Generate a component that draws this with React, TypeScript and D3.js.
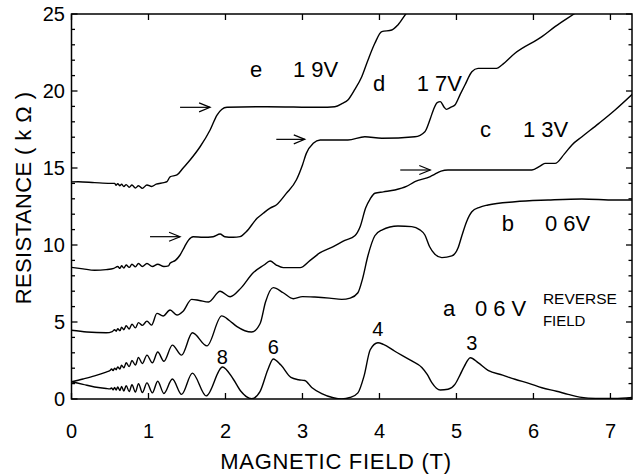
import React from "react";
import * as d3 from "d3";

// Magnetoresistance traces: [field (T), resistance (kΩ)]
const traceA: [number, number][] = [
  [0, 1.12], [0.15, 0.95], [0.3, 0.78], [0.45, 0.68], [0.5, 0.66],
  [0.52, 0.72], [0.54, 0.6], [0.56, 0.75], [0.58, 0.58], [0.6, 0.78], [0.63, 0.55],
  [0.65, 0.82], [0.68, 0.52], [0.71, 0.87], [0.75, 0.48], [0.785, 0.93], [0.83, 0.45],
  [0.87, 1.0], [0.92, 0.42], [0.98, 1.05], [1.05, 0.4], [1.12, 1.15], [1.2, 0.36],
  [1.31, 1.3], [1.43, 0.3], [1.57, 1.68], [1.75, 0.2], [1.96, 2.08], [2.1, 1.3],
  [2.2, 0.5], [2.34, 0.02], [2.45, 0.5], [2.55, 1.9], [2.62, 2.6], [2.72, 2.2],
  [2.85, 1.4], [2.95, 1.25], [3.03, 1.2], [3.12, 0.75], [3.25, 0.35], [3.4, 0.08],
  [3.51, 0.0], [3.62, 0.1], [3.72, 0.4], [3.8, 1.5], [3.88, 3.2], [3.98, 3.65],
  [4.05, 3.55], [4.2, 3.1], [4.42, 2.47], [4.55, 2.05], [4.62, 1.6], [4.68, 1.06],
  [4.74, 0.7], [4.79, 0.58], [4.89, 0.63], [4.98, 0.95], [5.05, 1.6], [5.1, 2.1],
  [5.18, 2.68], [5.28, 2.36], [5.41, 1.86], [5.6, 1.55], [5.76, 1.28], [5.95, 1.0],
  [6.11, 0.73], [6.3, 0.5], [6.45, 0.3], [6.6, 0.12], [6.71, 0.06], [6.9, 0.03],
  [7.05, 0.03], [7.28, 0.1],
];

const traceB: [number, number][] = [
  [0, 1.12], [0.15, 1.3], [0.3, 1.5], [0.45, 1.75], [0.5, 1.85],
  [0.52, 1.95], [0.54, 1.85], [0.56, 2.0], [0.58, 1.9], [0.6, 2.08], [0.63, 1.95],
  [0.65, 2.2], [0.68, 2.02], [0.71, 2.35], [0.75, 2.1], [0.785, 2.5], [0.83, 2.2],
  [0.87, 2.7], [0.92, 2.3], [0.98, 2.85], [1.05, 2.35], [1.12, 3.05], [1.2, 2.45],
  [1.31, 3.5], [1.43, 2.85], [1.57, 4.3], [1.76, 3.45], [1.95, 5.4], [2.05, 5.1],
  [2.15, 4.7], [2.34, 4.35], [2.45, 4.9], [2.52, 6.3], [2.62, 7.23], [2.75, 6.9],
  [2.88, 6.51], [3.0, 6.65], [3.16, 6.62], [3.35, 6.55], [3.51, 6.47], [3.62, 6.55],
  [3.72, 6.9], [3.78, 7.8], [3.85, 9.3], [3.94, 10.6], [4.03, 10.97], [4.24, 11.23],
  [4.42, 11.19], [4.52, 11.0], [4.59, 10.65], [4.65, 9.9], [4.72, 9.4], [4.81, 9.18],
  [4.94, 9.29], [5.02, 9.8], [5.07, 10.6], [5.13, 11.5], [5.2, 12.16], [5.3, 12.45],
  [5.41, 12.6], [5.76, 12.81], [6.19, 12.92], [6.63, 12.99], [7.06, 12.92], [7.28, 12.92],
];

const traceC: [number, number][] = [
  [0, 4.46], [0.2, 4.35], [0.45, 4.3], [0.53, 4.38],
  [0.56, 4.5], [0.58, 4.4], [0.6, 4.56], [0.63, 4.44], [0.65, 4.66], [0.68, 4.5],
  [0.71, 4.76], [0.75, 4.55], [0.785, 4.86], [0.83, 4.62], [0.87, 4.96], [0.92, 4.78],
  [0.98, 5.06], [1.04, 4.8], [1.11, 5.56], [1.19, 5.39], [1.28, 5.78], [1.37, 5.45],
  [1.45, 5.7], [1.56, 6.47], [1.66, 6.4], [1.78, 6.3], [1.93, 7.0], [2.06, 6.64],
  [2.2, 7.2], [2.36, 8.2], [2.5, 8.7], [2.58, 8.96], [2.66, 8.7], [2.75, 8.53],
  [2.97, 8.53], [3.1, 9.0], [3.23, 9.5], [3.4, 9.9], [3.55, 10.3], [3.68, 10.6],
  [3.75, 11.2], [3.82, 12.4], [3.88, 13.0], [3.94, 13.36], [4.05, 13.45], [4.2, 13.57],
  [4.35, 13.8], [4.46, 14.11], [4.66, 14.44], [4.72, 14.6], [4.8, 14.8], [4.89, 14.87],
  [5.98, 14.87], [6.08, 15.1], [6.15, 15.3], [6.28, 15.3], [6.4, 15.9], [6.5, 16.5],
  [6.63, 17.03], [6.85, 17.9], [7.06, 18.77], [7.3, 19.87],
];

const traceD: [number, number][] = [
  [0, 8.55], [0.15, 8.45], [0.3, 8.36], [0.45, 8.4], [0.55, 8.48],
  [0.6, 8.6], [0.63, 8.48], [0.65, 8.65], [0.68, 8.5], [0.71, 8.7], [0.75, 8.55],
  [0.785, 8.75], [0.83, 8.58], [0.87, 8.8], [0.92, 8.6], [0.98, 8.8], [1.05, 8.6],
  [1.12, 8.75], [1.2, 8.6], [1.26, 8.64], [1.28, 8.81], [1.35, 9.0], [1.41, 9.35],
  [1.47, 9.9], [1.52, 10.32], [1.58, 10.54], [1.71, 10.5], [1.84, 10.54], [1.93, 10.71],
  [1.99, 10.54], [2.1, 10.5], [2.19, 10.54], [2.27, 10.86], [2.41, 11.73], [2.49, 12.06],
  [2.58, 12.4], [2.66, 12.6], [2.79, 13.35], [2.92, 14.22], [3.0, 15.2], [3.05, 15.95],
  [3.14, 16.6], [3.23, 16.82], [3.59, 16.82], [3.81, 17.03], [4.03, 16.93], [4.46, 17.03],
  [4.59, 17.36], [4.66, 18.2], [4.7, 18.77], [4.75, 19.25], [4.79, 19.31], [4.84, 18.95],
  [4.87, 18.81], [4.93, 18.95], [4.98, 19.09], [5.05, 19.8], [5.11, 20.39], [5.2, 21.25],
  [5.28, 21.47], [5.52, 21.47], [5.59, 21.69], [5.76, 22.45], [6.11, 23.53], [6.28, 24.18],
  [6.54, 25.05], [6.7, 25.6],
];

const traceE: [number, number][] = [
  [0, 14.1], [0.09, 14.11], [0.3, 14.05], [0.5, 14.0],
  [0.56, 14.0], [0.58, 13.88], [0.6, 13.98], [0.63, 13.85], [0.65, 13.95], [0.68, 13.8],
  [0.71, 13.92], [0.75, 13.75], [0.785, 13.9], [0.83, 13.7], [0.87, 13.85], [0.92, 13.68],
  [0.98, 13.9], [1.04, 13.8], [1.1, 13.95], [1.2, 14.05], [1.24, 14.11], [1.28, 14.43],
  [1.37, 14.55], [1.45, 15.0], [1.54, 15.52], [1.67, 16.38], [1.8, 17.47], [1.89, 18.44],
  [1.95, 18.8], [2.02, 18.94], [2.54, 18.98], [3.23, 18.94], [3.42, 18.98], [3.52, 19.2],
  [3.59, 19.42], [3.68, 20.1], [3.77, 20.93], [3.85, 22.0], [3.94, 23.1], [4.03, 23.85],
  [4.16, 23.96], [4.24, 24.29], [4.35, 25.05], [4.45, 25.6],
];

const traces = [traceA, traceB, traceC, traceD, traceE];

// Arrows marking plateaus: [start field, end field, resistance]
const plateauArrows: [number, number, number][] = [
  [1.41, 1.8, 18.94],
  [2.66, 3.03, 16.86],
  [4.27, 4.66, 14.87],
  [1.02, 1.41, 10.54],
];

// Trace labels: letter, gate voltage
const traceLetters = ["e", "d", "c", "b", "a"];
const traceVoltages = ["1 9V", "1 7V", "1 3V", "0 6V", "0 6 V"];

// Filling-factor labels above the peaks of trace a
const peakFactors = ["8", "6", "4", "3"];
const peakFields = [1.96, 2.62, 3.98, 5.2];

const xTicks = [0, 1, 2, 3, 4, 5, 6, 7];
const yTicks = d3.range(0, 26, 1);
const yLabels = [0, 5, 10, 15, 20, 25];

const W = 635;
const H = 476;
const FONT = "'Liberation Sans', Arial, Helvetica, sans-serif";

export default function App() {
  const x = d3.scaleLinear().domain([0, 7.28]).range([71.5, 632]);
  const y = d3.scaleLinear().domain([0, 25]).range([399, 14]);

  const line = d3
    .line<[number, number]>()
    .x((d) => x(d[0]))
    .y((d) => y(d[1]))
    .curve(d3.curveMonotoneX);

  // label anchors in data units: [letter field, voltage field, baseline resistance]
  const labelAnchors: [number, number, number][] = [
    [2.318, 2.877, 20.91],
    [3.916, 4.483, 20.03],
    [5.305, 5.864, 17.01],
    [5.587, 6.149, 10.91],
    [4.825, 5.24, 5.39],
  ];
  const peakBaselines = [2.27, 2.92, 4.09, 3.18];

  return (
    <svg
      width={W}
      height={H}
      style={{ position: "absolute", left: 0, top: 0, background: "#fff" }}
      fontFamily={FONT}
    >
      <defs>
        <clipPath id="plot-clip">
          <rect x={71.5} y={14} width={560.5} height={385} />
        </clipPath>
      </defs>
      <rect width={W} height={H} fill="#fff" />

      {/* traces */}
      <g clipPath="url(#plot-clip)" fill="none" stroke="#000" strokeWidth={1.4}>
        {traces.map((t, i) => (
          <path key={i} d={line(t) || ""} strokeLinejoin="round" />
        ))}
      </g>

      {/* frame */}
      <rect x={71.5} y={14} width={560.5} height={385} fill="none" stroke="#000" strokeWidth={1.5} />

      {/* x ticks (bottom and top, inward) */}
      {xTicks.map((t) => (
        <g key={"xt" + t} stroke="#000" strokeWidth={1.3}>
          <line x1={x(t)} x2={x(t)} y1={399} y2={393} />
          <line x1={x(t)} x2={x(t)} y1={14} y2={20} />
        </g>
      ))}
      {xTicks.map((t) => (
        <text key={"xl" + t} x={x(t)} y={438} fontSize={20} textAnchor="middle" fill="#000">
          {t}
        </text>
      ))}

      {/* y ticks (left and right, inward) */}
      {yTicks.map((v) => {
        const len = v % 5 === 0 ? 6 : 3.5;
        return (
          <g key={"yt" + v} stroke="#000" strokeWidth={1.3}>
            <line x1={71.5} x2={71.5 + len} y1={y(v)} y2={y(v)} />
            <line x1={632} x2={632 - len} y1={y(v)} y2={y(v)} />
          </g>
        );
      })}
      {yLabels.map((v) => (
        <text key={"yl" + v} x={65} y={y(v) + 7} fontSize={20} textAnchor="end" fill="#000">
          {v}
        </text>
      ))}

      {/* axis titles */}
      <text x={336} y={469} fontSize={22} textAnchor="middle" fill="#000" letterSpacing={0.7}>
        MAGNETIC FIELD (T)
      </text>
      <text
        transform={`translate(31,198) rotate(-90)`}
        fontSize={22}
        textAnchor="middle"
        fill="#000"
        letterSpacing={0.4}
      >
        RESISTANCE ( k Ω )
      </text>

      {/* plateau arrows */}
      {plateauArrows.map(([b0, b1, r], i) => {
        const x0 = x(b0);
        const x1 = x(b1);
        const yy = y(r);
        return (
          <g key={"ar" + i} stroke="#000" strokeWidth={1.2} fill="none">
            <line x1={x0} x2={x1} y1={yy} y2={yy} />
            <path d={`M${x1 - 11},${yy - 4.5} L${x1},${yy} L${x1 - 11},${yy + 4.5}`} />
          </g>
        );
      })}

      {/* trace labels */}
      {traceLetters.map((l, i) => {
        const [bl, bv, r] = labelAnchors[i];
        return (
          <g key={"lb" + i} fontSize={22} fill="#000">
            <text x={x(bl)} y={y(r)}>{l}</text>
            <text x={x(bv)} y={y(r)}>{traceVoltages[i]}</text>
          </g>
        );
      })}
      <text x={x(6.123)} y={y(6.17)} fontSize={15} fill="#000" textLength={74} lengthAdjust="spacingAndGlyphs">
        REVERSE
      </text>
      <text x={x(6.123)} y={y(4.74)} fontSize={15} fill="#000">
        FIELD
      </text>

      {/* filling factors */}
      {peakFactors.map((f, i) => (
        <text
          key={"pf" + i}
          x={x(peakFields[i])}
          y={y(peakBaselines[i])}
          fontSize={20}
          textAnchor="middle"
          fill="#000"
        >
          {f}
        </text>
      ))}
    </svg>
  );
}
